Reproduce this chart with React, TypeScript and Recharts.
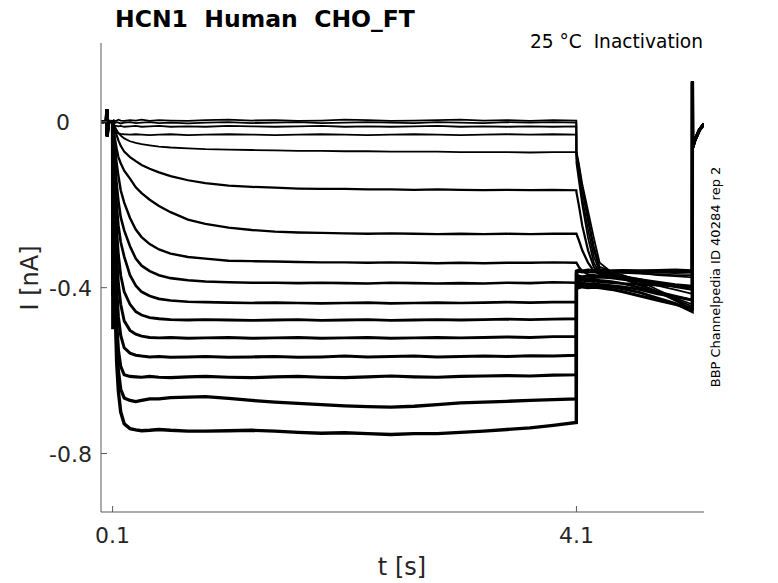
import { LineChart, Line, XAxis, YAxis } from "recharts";

// time bases (s)
const PRE_T = [0.005, 0.045, 0.051, 0.053, 0.065, 0.099];
const PULSE_T = [
  0.1, 0.102, 0.11, 0.12, 0.135, 0.15, 0.17, 0.2, 0.25, 0.3, 0.35, 0.42, 0.5, 0.6, 0.75, 0.9,
  1.1, 1.3, 1.5, 1.7, 1.9, 2.1, 2.3, 2.5, 2.7, 2.9, 3.1, 3.3, 3.5, 3.7, 3.9, 4.099,
];
const TAIL_T = [4.1, 4.12, 4.15, 4.2, 4.25, 4.3, 4.4, 4.5, 4.65, 4.8, 4.95, 5.099];
const AFTER_T = [5.1, 5.102, 5.12, 5.16, 5.2];

// shared holding segments (nA)
const PRE_I = [0, 0.001, 0.03, -0.035, 0.001, 0];
const AFTER_I = [0.097, -0.062, -0.045, -0.02, -0.005];

// currents during the 4 s pulse, one array per sweep (nA)
const PULSE_I = [
  [0, 0.002, 0.004, 0.002, 0.003, 0.005, 0.003, 0.002, 0.004, 0.003, 0.005, 0.002, 0.004, 0.003, 0.002, 0.004, 0.005, 0.003, 0.004, 0.002, 0.003, 0.005, 0.004, 0.002, 0.003, 0.004, 0.005, 0.003, 0.004, 0.002, 0.004, 0.003],
  [0, -0.001, -0.002, -0.003, -0.001, -0.002, -0.004, -0.002, -0.001, -0.003, -0.002, -0.001, -0.003, -0.002, -0.004, -0.002, -0.001, -0.003, -0.002, -0.001, -0.003, -0.002, -0.001, -0.002, -0.003, -0.001, -0.002, -0.003, -0.001, -0.002, -0.001, -0.002],
  [0, -0.003, -0.007, -0.009, -0.01, -0.011, -0.01, -0.012, -0.011, -0.01, -0.012, -0.011, -0.01, -0.012, -0.011, -0.012, -0.01, -0.011, -0.012, -0.011, -0.01, -0.012, -0.011, -0.012, -0.011, -0.01, -0.012, -0.011, -0.012, -0.011, -0.012, -0.011],
  [0, -0.006, -0.016, -0.022, -0.026, -0.028, -0.029, -0.03, -0.031, -0.03, -0.031, -0.032, -0.031, -0.03, -0.032, -0.031, -0.03, -0.031, -0.032, -0.031, -0.03, -0.031, -0.032, -0.031, -0.03, -0.031, -0.032, -0.031, -0.03, -0.031, -0.03, -0.031],
  [0, -0.001, -0.005, -0.012, -0.02, -0.027, -0.033, -0.04, -0.047, -0.051, -0.054, -0.057, -0.06, -0.062, -0.064, -0.066, -0.067, -0.068, -0.069, -0.07, -0.07, -0.071, -0.071, -0.072, -0.072, -0.072, -0.073, -0.073, -0.073, -0.074, -0.073, -0.073],
  [0, 0, -0.01, -0.02, -0.033, -0.045, -0.058, -0.072, -0.085, -0.095, -0.104, -0.113, -0.122, -0.131, -0.141, -0.148, -0.154, -0.157, -0.159, -0.161, -0.162, -0.162, -0.163, -0.163, -0.164, -0.163, -0.164, -0.165, -0.164, -0.165, -0.164, -0.165],
  [0, -0.002, -0.02, -0.04, -0.065, -0.085, -0.1, -0.118, -0.137, -0.158, -0.172, -0.188, -0.203, -0.218, -0.236, -0.246, -0.255, -0.261, -0.265, -0.267, -0.268, -0.269, -0.27, -0.269, -0.27, -0.271, -0.27, -0.271, -0.27, -0.271, -0.27, -0.27],
  [0, -0.003, -0.03, -0.06, -0.1, -0.13, -0.165, -0.195, -0.232, -0.26, -0.278, -0.295, -0.308, -0.318, -0.326, -0.33, -0.335, -0.336, -0.337, -0.338, -0.339, -0.339, -0.34, -0.339, -0.34, -0.341, -0.34, -0.341, -0.34, -0.34, -0.339, -0.34],
  [0, -0.004, -0.045, -0.09, -0.15, -0.19, -0.23, -0.262, -0.3, -0.33, -0.347, -0.36, -0.37, -0.377, -0.382, -0.385, -0.387, -0.388, -0.388, -0.389, -0.388, -0.389, -0.39, -0.388, -0.389, -0.39, -0.389, -0.39, -0.388, -0.389, -0.387, -0.388],
  [0, -0.005, -0.06, -0.12, -0.2, -0.25, -0.29, -0.325, -0.37, -0.395, -0.41, -0.42, -0.427, -0.431, -0.434, -0.435, -0.436, -0.437, -0.436, -0.437, -0.438, -0.437, -0.436, -0.438, -0.437, -0.436, -0.437, -0.436, -0.435, -0.436, -0.435, -0.435],
  [0, -0.006, -0.08, -0.16, -0.26, -0.32, -0.37, -0.41, -0.44, -0.458, -0.466, -0.472, -0.475, -0.477, -0.478, -0.477, -0.478, -0.479, -0.478, -0.477, -0.479, -0.478, -0.477, -0.479, -0.478, -0.477, -0.478, -0.477, -0.476, -0.477, -0.476, -0.475],
  [0, -0.008, -0.1, -0.2, -0.32, -0.39, -0.44, -0.48, -0.503, -0.512, -0.517, -0.52, -0.521, -0.52, -0.522, -0.521, -0.52, -0.522, -0.521, -0.52, -0.522, -0.521, -0.52, -0.522, -0.521, -0.52, -0.521, -0.52, -0.519, -0.52, -0.518, -0.518],
  [0, -0.01, -0.13, -0.26, -0.4, -0.47, -0.515, -0.545, -0.558, -0.563, -0.565, -0.567, -0.566, -0.568, -0.567, -0.566, -0.568, -0.567, -0.566, -0.568, -0.567, -0.565, -0.567, -0.566, -0.565, -0.567, -0.566, -0.565, -0.566, -0.564, -0.565, -0.563],
  [0, -0.3, -0.16, -0.32, -0.48, -0.55, -0.59, -0.61, -0.614, -0.615, -0.616, -0.614, -0.616, -0.617, -0.615, -0.614, -0.616, -0.617, -0.615, -0.614, -0.616, -0.617, -0.615, -0.613, -0.615, -0.616, -0.614, -0.613, -0.612, -0.613, -0.611, -0.61],
  [0, -0.42, -0.2, -0.38, -0.54, -0.6, -0.645, -0.666, -0.672, -0.675, -0.672, -0.668, -0.668, -0.665, -0.664, -0.663, -0.667, -0.672, -0.676, -0.679, -0.682, -0.685, -0.687, -0.688, -0.686, -0.682, -0.678, -0.676, -0.674, -0.672, -0.67, -0.668],
  [0, -0.5, -0.22, -0.42, -0.58, -0.65, -0.7, -0.728, -0.74, -0.743, -0.745, -0.744, -0.742, -0.744, -0.746, -0.746, -0.745, -0.744, -0.746, -0.749, -0.751, -0.75, -0.752, -0.754, -0.752, -0.752, -0.749, -0.746, -0.742, -0.738, -0.732, -0.725],
];

// currents after the step back at 4.1 s (nA)
const TAIL_I = [
  [-0.072, -0.1, -0.15, -0.215, -0.28, -0.34, -0.362, -0.37, -0.385, -0.405, -0.425, -0.44],
  [-0.075, -0.105, -0.16, -0.23, -0.3, -0.35, -0.36, -0.362, -0.365, -0.37, -0.372, -0.375],
  [-0.078, -0.11, -0.165, -0.24, -0.31, -0.355, -0.365, -0.372, -0.385, -0.395, -0.405, -0.415],
  [-0.085, -0.125, -0.185, -0.26, -0.325, -0.36, -0.362, -0.364, -0.366, -0.368, -0.37, -0.37],
  [-0.1, -0.14, -0.2, -0.28, -0.34, -0.365, -0.37, -0.378, -0.395, -0.41, -0.428, -0.445],
  [-0.17, -0.2, -0.25, -0.31, -0.35, -0.365, -0.368, -0.372, -0.38, -0.39, -0.398, -0.405],
  [-0.27, -0.285, -0.31, -0.34, -0.36, -0.368, -0.37, -0.378, -0.392, -0.41, -0.43, -0.452],
  [-0.34, -0.35, -0.36, -0.368, -0.37, -0.372, -0.372, -0.375, -0.38, -0.386, -0.392, -0.396],
  [-0.375, -0.378, -0.38, -0.378, -0.38, -0.382, -0.385, -0.39, -0.4, -0.41, -0.42, -0.43],
  [-0.38, -0.385, -0.382, -0.385, -0.384, -0.386, -0.388, -0.39, -0.392, -0.394, -0.396, -0.398],
  [-0.385, -0.39, -0.388, -0.392, -0.39, -0.392, -0.395, -0.398, -0.405, -0.415, -0.422, -0.43],
  [-0.39, -0.395, -0.392, -0.396, -0.394, -0.396, -0.398, -0.403, -0.412, -0.425, -0.438, -0.458],
  [-0.37, -0.372, -0.374, -0.372, -0.375, -0.374, -0.376, -0.38, -0.385, -0.39, -0.395, -0.4],
  [-0.395, -0.4, -0.398, -0.4, -0.399, -0.4, -0.404, -0.41, -0.42, -0.43, -0.44, -0.45],
  [-0.365, -0.36, -0.362, -0.36, -0.362, -0.361, -0.362, -0.362, -0.363, -0.362, -0.363, -0.362],
  [-0.36, -0.358, -0.36, -0.358, -0.359, -0.358, -0.36, -0.359, -0.36, -0.359, -0.358, -0.36],
];

const X_TICKS = [0.1, 4.1];
const Y_TICKS = [-0.8, -0.4, 0];

const times = [...PRE_T, ...PULSE_T, ...TAIL_T, ...AFTER_T];
const sweeps = PULSE_I.map((p, i) => [...PRE_I, ...p, ...TAIL_I[i], ...AFTER_I]);
const rows = times.map((t, k) => {
  const row: Record<string, number> = { t };
  sweeps.forEach((s, i) => {
    row[`s${i}`] = s[k];
  });
  return row;
});

const AXIS = "#5a5a5a";
const FONT = "DejaVu Sans";

// MATLAB-style ticks: marks point into the plot
const XTick = (props: any) => {
  const { x, y, payload } = props;
  return (
    <g>
      <line x1={x} x2={x} y1={y} y2={y - 6} stroke={AXIS} />
      <text x={x} y={y + 31} textAnchor="middle" fontSize={22} fill="#262626" fontFamily={FONT}>
        {String(payload.value)}
      </text>
    </g>
  );
};

const YTick = (props: any) => {
  const { x, y, payload } = props;
  // the "0" label sits further left, centred under the other labels
  const zero = payload.value === 0;
  return (
    <g>
      <line x1={x} x2={x + 6} y1={y} y2={y} stroke={AXIS} />
      <text
        x={zero ? x - 38 : x - 9}
        y={y + 8}
        textAnchor={zero ? "middle" : "end"}
        fontSize={22}
        fill="#262626"
        fontFamily={FONT}
      >
        {String(payload.value)}
      </text>
    </g>
  );
};

export default function App() {
  return (
    <div style={{ position: "absolute", left: 0, top: 0, width: 778, height: 583, background: "#fff" }}>
      <LineChart
        width={778}
        height={583}
        data={rows}
        margin={{ top: 43, right: 74, bottom: 70, left: 100 }}
      >
        <XAxis
          type="number"
          dataKey="t"
          domain={[0, 5.2]}
          ticks={X_TICKS}
          height={1}
          tickSize={0}
          tickMargin={0}
          tickLine={false}
          tick={<XTick />}
          axisLine={{ stroke: AXIS }}
          allowDataOverflow
        />
        <YAxis
          type="number"
          domain={[-0.941, 0.19]}
          ticks={Y_TICKS}
          width={1}
          tickSize={0}
          tickMargin={0}
          tickLine={false}
          tick={<YTick />}
          axisLine={{ stroke: AXIS }}
          allowDataOverflow
        />
        {sweeps.map((_, i) => (
          <Line
            key={i}
            dataKey={`s${i}`}
            stroke="#000"
            strokeWidth={i < 5 ? 1.8 : 1.6 + i * 0.12}
            dot={false}
            type="linear"
            isAnimationActive={false}
          />
        ))}
      </LineChart>
      <svg
        width={778}
        height={583}
        style={{ position: "absolute", left: 0, top: 0, pointerEvents: "none" }}
      >
        <text x={115} y={27} fontSize={23.5} fontWeight="bold" fontFamily={FONT} fill="#000">
          HCN1{"\u00a0\u00a0"}Human{"\u00a0\u00a0"}CHO_FT
        </text>
        <text x={703} y={48} fontSize={18.6} textAnchor="end" fontFamily={FONT} fill="#000">
          25 °C{"\u00a0\u00a0"}Inactivation
        </text>
        <text
          transform="translate(720, 277) rotate(-90)"
          fontSize={13}
          textAnchor="middle"
          fontFamily={FONT}
          fill="#000"
        >
          BBP Channelpedia ID 40284 rep 2
        </text>
        <text
          transform="translate(38, 278) rotate(-90)"
          fontSize={24}
          textAnchor="middle"
          fontFamily={FONT}
          fill="#262626"
        >
          I [nA]
        </text>
        <text x={402} y={575} fontSize={24} textAnchor="middle" fontFamily={FONT} fill="#262626">
          t [s]
        </text>
      </svg>
    </div>
  );
}
